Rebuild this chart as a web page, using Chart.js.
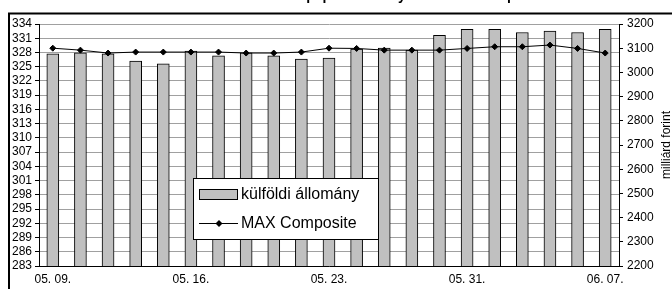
<!DOCTYPE html>
<html>
<head>
<meta charset="utf-8">
<script src="https://cdn.jsdelivr.net/npm/chart.js@4"></script>
<style>
html,body{margin:0;padding:0;background:#fff;}
#wrap{width:672px;height:289px;position:relative;}
</style>
</head>
<body>
<div id="wrap"><canvas id="c" width="672" height="289"></canvas></div>
<script>
const categories = ['05. 09.','05. 10.','05. 11.','05. 12.','05. 13.','05. 16.','05. 17.','05. 18.','05. 19.','05. 20.','05. 23.','05. 24.','05. 25.','05. 26.','05. 27.','05. 31.','06. 01.','06. 02.','06. 03.','06. 06.','06. 07.'];
const foreignHoldings = [327.7, 327.9, 327.7, 326.2, 325.6, 328.3, 327.3, 327.9, 327.3, 326.6, 326.8, 328.7, 328.9, 328.5, 331.6, 332.9, 332.9, 332.2, 332.5, 332.2, 332.9];
const maxComposite = [3100, 3092, 3080, 3084, 3084, 3084, 3084, 3080, 3080, 3084, 3100, 3099, 3092, 3092, 3092, 3099, 3106, 3106, 3113, 3099, 3080];
const seriesNames = ['külföldi állomány', 'MAX Composite'];
const rightAxisTitle = 'milliárd forint';
const chartTitle = 'A külföldiek kezében lévő forint állampapír-állomány és a MAX Composite index alakulása';
const leftTicks = {min: 283, max: 334, step: 3};
const rightTicks = {min: 2200, max: 3200, step: 100};

const FONT = "'Liberation Sans', Arial, sans-serif";

const decor = {
  id: 'decor',
  afterDraw(chart) {
    const ctx = chart.ctx;
    ctx.save();
    // outer frame
    ctx.strokeStyle = '#000';
    ctx.lineWidth = 2;
    ctx.strokeRect(9, 13.5, 720, 320);
    // cut-off title (only the lowest pixels fall inside the picture)
    ctx.fillStyle = '#000';
    ctx.font = 'bold 14px ' + FONT;
    ctx.textAlign = 'center';
    ctx.textBaseline = 'alphabetic';
    ctx.fillText(chartTitle, 356, -0.5);
    // right axis title
    ctx.save();
    ctx.translate(670, 145);
    ctx.rotate(-Math.PI / 2);
    ctx.font = '12px ' + FONT;
    ctx.textAlign = 'center';
    ctx.fillText(rightAxisTitle, 0, 0);
    ctx.restore();
    // legend
    const lx = 193.5, ly = 178.5, lw = 185, lh = 61;
    ctx.fillStyle = '#fff';
    ctx.fillRect(lx, ly, lw, lh);
    ctx.strokeStyle = '#000';
    ctx.lineWidth = 1;
    ctx.strokeRect(lx, ly, lw, lh);
    const ds = chart.data.datasets;
    const barDs = ds.find(d => d.type === 'bar');
    const lineDs = ds.find(d => d.type === 'line');
    ctx.font = '16px ' + FONT;
    ctx.textAlign = 'left';
    ctx.textBaseline = 'middle';
    ctx.fillStyle = barDs.backgroundColor;
    ctx.fillRect(199.5, 189.5, 38, 10);
    ctx.strokeStyle = '#000';
    ctx.strokeRect(199.5, 189.5, 38, 10);
    ctx.fillStyle = '#000';
    ctx.fillText(barDs.label, 241, 195);
    ctx.beginPath();
    ctx.moveTo(199, 223.5);
    ctx.lineTo(238, 223.5);
    ctx.stroke();
    ctx.beginPath();
    ctx.moveTo(219, 220); ctx.lineTo(222.5, 223.5); ctx.lineTo(219, 227); ctx.lineTo(215.5, 223.5); ctx.closePath();
    ctx.fill();
    ctx.fillText(lineDs.label, 241, 224);
    ctx.restore();
  }
};

new Chart(document.getElementById('c'), {
  data: {
    labels: categories,
    datasets: [
      {
        type: 'line',
        label: seriesNames[1],
        data: maxComposite,
        yAxisID: 'y1',
        borderColor: '#000',
        borderWidth: 1,
        pointStyle: 'rectRot',
        pointRadius: 3,
        pointBackgroundColor: '#000',
        pointBorderColor: '#000',
        pointBorderWidth: 1,
        tension: 0,
        order: 0
      },
      {
        type: 'bar',
        label: seriesNames[0],
        data: foreignHoldings,
        yAxisID: 'y',
        backgroundColor: '#c0c0c0',
        borderColor: '#000',
        borderWidth: 1,
        barThickness: 12,
        order: 1
      }
    ]
  },
  options: {
    responsive: false,
    animation: false,
    devicePixelRatio: 1,
    layout: {padding: {top: 24, left: 0, right: 0, bottom: 0}},
    plugins: {legend: {display: false}, tooltip: {enabled: false}, title: {display: false}},
    scales: {
      x: {
        type: 'category',
        offset: true,
        grid: {display: true, drawOnChartArea: false, drawTicks: false},
        border: {display: true, color: '#000', width: 1},
        ticks: {
          autoSkip: false, maxRotation: 0, minRotation: 0, padding: 6,
          color: '#000', font: {family: FONT, size: 12},
          callback: function(v, i) { return i % 5 === 0 ? this.getLabelForValue(v) : null; }
        },
        afterFit(s) { s.height = 23; }
      },
      y: {
        position: 'left',
        min: leftTicks.min, max: leftTicks.max,
        grid: {color: '#a0a0a0', tickColor: '#000', tickLength: 4, lineWidth: 1},
        border: {display: true, color: '#000', width: 1},
        ticks: {stepSize: leftTicks.step, autoSkip: false, padding: 3, color: '#000', font: {family: FONT, size: 12},
          callback: v => String(v)},
        afterFit(s) { s.width = 39; }
      },
      y1: {
        position: 'right',
        min: rightTicks.min, max: rightTicks.max,
        grid: {drawOnChartArea: false, tickColor: '#000', tickLength: 4},
        border: {display: true, color: '#000', width: 1},
        ticks: {stepSize: rightTicks.step, autoSkip: false, padding: 4, color: '#000', font: {family: FONT, size: 12},
          callback: v => String(v)},
        afterFit(s) { s.width = 53; }
      }
    }
  },
  plugins: [decor]
});
</script>
</body>
</html>
